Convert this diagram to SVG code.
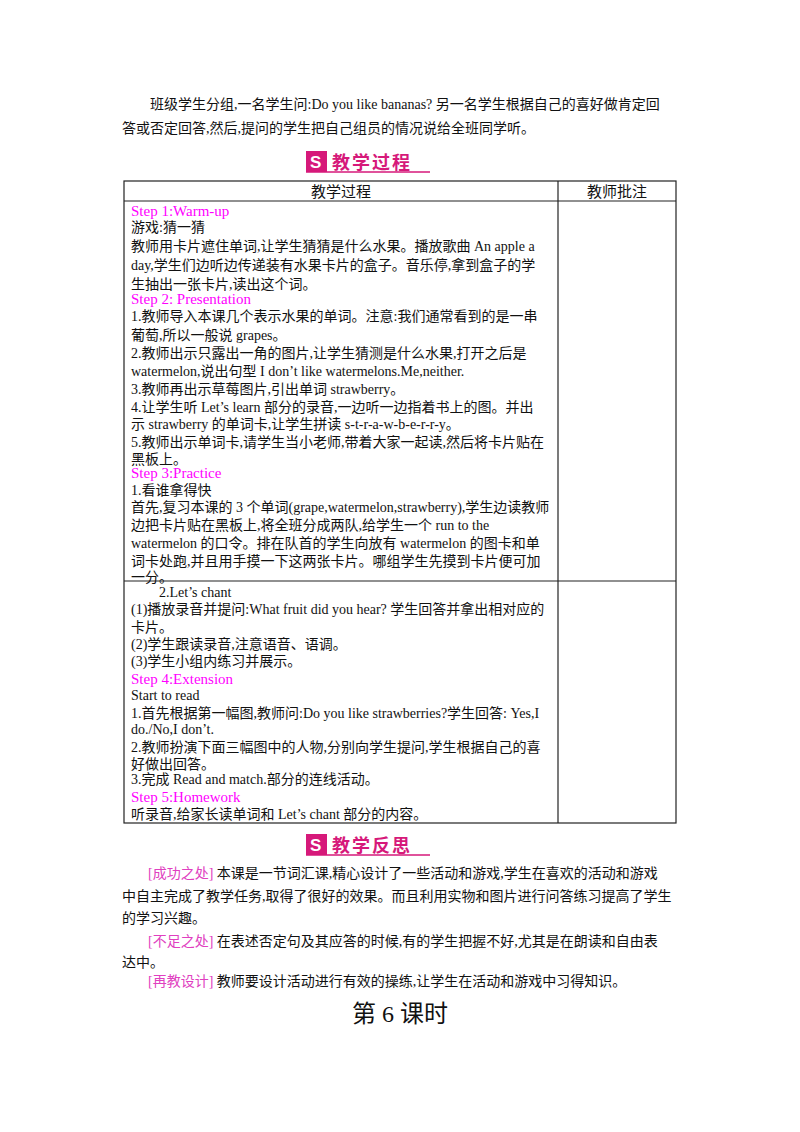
<svg xmlns="http://www.w3.org/2000/svg" width="800" height="1132" viewBox="0 0 800 1132">
<style>
text{font-family:"Liberation Serif","Noto Sans CJK SC",serif;font-size:14px;fill:#111}
.m{fill:#ff00ff;font-size:15px}
.p{fill:#e040c0}
.h{font-family:"Noto Sans CJK SC",sans-serif;font-weight:bold;font-size:18px;fill:#d6197a;letter-spacing:2px}
.l{stroke:#222;stroke-width:1.2;fill:none}
</style>
<rect width="800" height="1132" fill="#fff"/>
<text x="150" y="109">班级学生分组,一名学生问:Do you like bananas?  另一名学生根据自己的喜好做肯定回</text>
<text x="122" y="133">答或否定回答,然后,提问的学生把自己组员的情况说给全班同学听。</text>
<g id="h1">
<rect x="306" y="151" width="21" height="21" fill="#d6197a"/><text x="310" y="168" style="fill:#fff;font-weight:bold;font-size:17px;font-family:'Liberation Sans',sans-serif">S</text>
<text x="332" y="169" class="h">教学过程</text>
<line x1="306" y1="172" x2="430" y2="172" stroke="#d6197a" stroke-width="1.5"/>
</g>
<g id="table">
<rect x="124" y="181" width="552" height="642" class="l"/>
<line x1="124" y1="201" x2="676" y2="201" class="l"/>
<line x1="124" y1="581" x2="676" y2="581" class="l"/>
<line x1="558" y1="181" x2="558" y2="823" class="l"/>
<text x="341" y="197" text-anchor="middle" style="font-size:15px">教学过程</text>
<text x="617" y="197" text-anchor="middle" style="font-size:15px">教师批注</text>
</g>
<g id="c1">
<text x="131" y="216" class="m">Step 1:Warm-up</text>
<text x="131" y="232">游戏:猜一猜</text>
<text x="131" y="251">教师用卡片遮住单词,让学生猜猜是什么水果。播放歌曲 An apple a</text>
<text x="131" y="270">day,学生们边听边传递装有水果卡片的盒子。音乐停,拿到盒子的学</text>
<text x="131" y="289">生抽出一张卡片,读出这个词。</text>
<text x="131" y="304" class="m">Step 2: Presentation</text>
<text x="131" y="321">1.教师导入本课几个表示水果的单词。注意:我们通常看到的是一串</text>
<text x="131" y="340">葡萄,所以一般说 grapes。</text>
<text x="131" y="358">2.教师出示只露出一角的图片,让学生猜测是什么水果,打开之后是</text>
<text x="131" y="376">watermelon,说出句型 I don’t like watermelons.Me,neither.</text>
<text x="131" y="394">3.教师再出示草莓图片,引出单词 strawberry。</text>
<text x="131" y="412">4.让学生听 Let’s learn  部分的录音,一边听一边指着书上的图。并出</text>
<text x="131" y="429">示 strawberry 的单词卡,让学生拼读 s-t-r-a-w-b-e-r-r-y。</text>
<text x="131" y="447">5.教师出示单词卡,请学生当小老师,带着大家一起读,然后将卡片贴在</text>
<text x="131" y="464">黑板上。</text>
<text x="131" y="478" class="m">Step 3:Practice</text>
<text x="131" y="495">1.看谁拿得快</text>
<text x="131" y="512">首先,复习本课的 3 个单词(grape,watermelon,strawberry),学生边读教师</text>
<text x="131" y="530">边把卡片贴在黑板上,将全班分成两队,给学生一个 run to the</text>
<text x="131" y="548">watermelon 的口令。排在队首的学生向放有 watermelon 的图卡和单</text>
<text x="131" y="566">词卡处跑,并且用手摸一下这两张卡片。哪组学生先摸到卡片便可加</text>
<text x="131" y="582">一分。</text>
</g>
<g id="c2">
<text x="159" y="597">2.Let’s chant</text>
<text x="131" y="614">(1)播放录音并提问:What fruit did you hear?  学生回答并拿出相对应的</text>
<text x="131" y="632">卡片。</text>
<text x="131" y="649">(2)学生跟读录音,注意语音、语调。</text>
<text x="131" y="666">(3)学生小组内练习并展示。</text>
<text x="131" y="684" class="m">Step 4:Extension</text>
<text x="131" y="700">Start to read</text>
<text x="131" y="718">1.首先根据第一幅图,教师问:Do you like strawberries?学生回答: Yes,I</text>
<text x="131" y="734">do./No,I don’t.</text>
<text x="131" y="752">2.教师扮演下面三幅图中的人物,分别向学生提问,学生根据自己的喜</text>
<text x="131" y="769">好做出回答。</text>
<text x="131" y="784">3.完成 Read and match.部分的连线活动。</text>
<text x="131" y="802" class="m">Step 5:Homework</text>
<text x="131" y="819">听录音,给家长读单词和 Let’s chant 部分的内容。</text>
</g>
<g id="h2">
<rect x="306" y="834" width="21" height="21" fill="#d6197a"/><text x="310" y="851" style="fill:#fff;font-weight:bold;font-size:17px;font-family:'Liberation Sans',sans-serif">S</text>
<text x="332" y="852" class="h">教学反思</text>
<line x1="306" y1="855" x2="430" y2="855" stroke="#d6197a" stroke-width="1.5"/>
</g>
<text x="148" y="878"><tspan class="p">[成功之处]</tspan>     本课是一节词汇课,精心设计了一些活动和游戏,学生在喜欢的活动和游戏</text>
<text x="122" y="901">中自主完成了教学任务,取得了很好的效果。而且利用实物和图片进行问答练习提高了学生</text>
<text x="122" y="923">的学习兴趣。</text>
<text x="148" y="946"><tspan class="p">[不足之处]</tspan>     在表述否定句及其应答的时候,有的学生把握不好,尤其是在朗读和自由表</text>
<text x="122" y="967">达中。</text>
<text x="148" y="986"><tspan class="p">[再教设计]</tspan>     教师要设计活动进行有效的操练,让学生在活动和游戏中习得知识。</text>
<text x="400" y="1022" text-anchor="middle" style="font-size:24px">第 6 课时</text>
</svg>
